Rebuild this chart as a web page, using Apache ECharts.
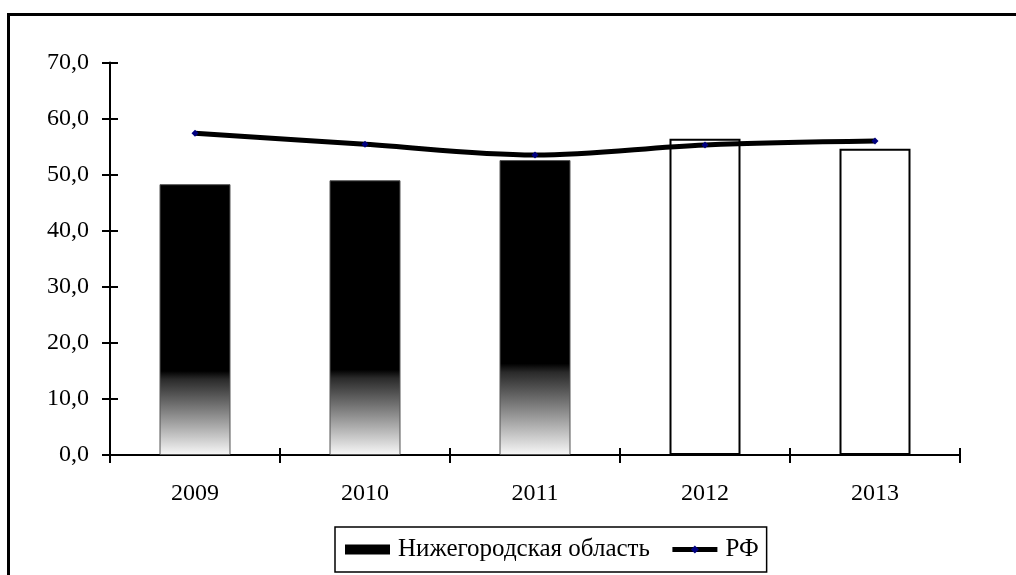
<!DOCTYPE html>
<html>
<head>
<meta charset="utf-8">
<script src="https://cdn.jsdelivr.net/npm/echarts@6/dist/echarts.min.js"></script>
<style>
html,body{margin:0;padding:0;background:#fff;}
#c{width:1016px;height:575px;}
</style>
</head>
<body>
<div id="c"></div>
<script>
const categories = ['2009', '2010', '2011', '2012', '2013'];
const nizhValues = [48.3, 49.0, 52.6, 56.4, 54.6];
const rfValues = [57.4, 55.4, 53.5, 55.3, 56.0];
const filledCount = 3;
const seriesNames = ['Нижегородская область', 'РФ'];

const FONT = '"Liberation Serif", "Times New Roman", serif';

const barData = nizhValues.map((v, i) => ({
  value: v,
  itemStyle: i < filledCount ? {
    color: {
      type: 'linear', x: 0, y: 0, x2: 0, y2: 1,
      colorStops: [
        { offset: 0, color: '#000' },
        { offset: 0.69, color: '#000' },
        { offset: 0.72, color: '#2a2a2a' },
        { offset: 1, color: '#f8f8f8' }
      ]
    },
    borderColor: '#555',
    borderWidth: 1
  } : {
    color: '#fff',
    borderColor: '#000',
    borderWidth: 2
  }
}));

const chart = echarts.init(document.getElementById('c'));
chart.setOption({
  animation: false,
  backgroundColor: '#fff',
  graphic: [{
    type: 'rect',
    shape: { x: 8.5, y: 14.5, width: 1100, height: 700 },
    style: { fill: 'none', stroke: '#000', lineWidth: 3 },
    silent: true
  }],
  grid: { left: 110, right: 56, top: 62.5, bottom: 120 },
  legend: {
    left: 335, top: 527,
    padding: [10, 8, 10, 10],
    borderColor: '#000', borderWidth: 1.5,
    itemWidth: 45, itemHeight: 10, itemGap: 20,
    textStyle: { fontFamily: FONT, fontSize: 25, color: '#000', padding: [0, 0, 0, 3] },
    data: [
      { name: seriesNames[0], icon: 'rect', itemStyle: { color: '#000', borderWidth: 0 } },
      { name: seriesNames[1], lineStyle: { width: 5, color: '#000' }, itemStyle: { color: '#000080' } }
    ]
  },
  xAxis: [{
    type: 'category',
    data: categories,
    boundaryGap: true,
    axisLine: { lineStyle: { color: '#000', width: 2 } },
    axisTick: { show: true, length: 8, lineStyle: { color: '#000', width: 2 } },
    axisLabel: { fontFamily: FONT, fontSize: 24, color: '#000', margin: 27 },
    splitLine: { show: false }
  }, {
    type: 'category',
    data: categories,
    position: 'bottom',
    boundaryGap: true,
    axisLine: { show: false },
    axisTick: { show: true, inside: true, length: 7, lineStyle: { color: '#000', width: 2 } },
    axisLabel: { show: false },
    splitLine: { show: false }
  }],
  yAxis: [{
    type: 'value',
    min: 0, max: 70, interval: 10,
    axisLine: { show: true, lineStyle: { color: '#000', width: 2 } },
    axisTick: { show: true, length: 8, lineStyle: { color: '#000', width: 2 } },
    axisLabel: {
      fontFamily: FONT, fontSize: 24, color: '#000', margin: 21,
      formatter: v => v.toFixed(1).replace('.', ',')
    },
    splitLine: { show: false }
  }, {
    type: 'value',
    min: 0, max: 70, interval: 10,
    position: 'left',
    axisLine: { show: false },
    axisTick: { show: true, inside: true, length: 8, lineStyle: { color: '#000', width: 2 } },
    axisLabel: { show: false },
    splitLine: { show: false }
  }],
  series: [{
    name: seriesNames[0],
    type: 'bar',
    barWidth: 71,
    data: barData,
    z: 2
  }, {
    name: seriesNames[1],
    type: 'line',
    data: rfValues,
    smooth: 0.35,
    symbol: 'diamond',
    symbolSize: 7,
    showSymbol: true,
    lineStyle: { color: '#000', width: 5 },
    itemStyle: { color: '#000080', borderWidth: 0 },
    z: 5
  }]
});
</script>
</body>
</html>
